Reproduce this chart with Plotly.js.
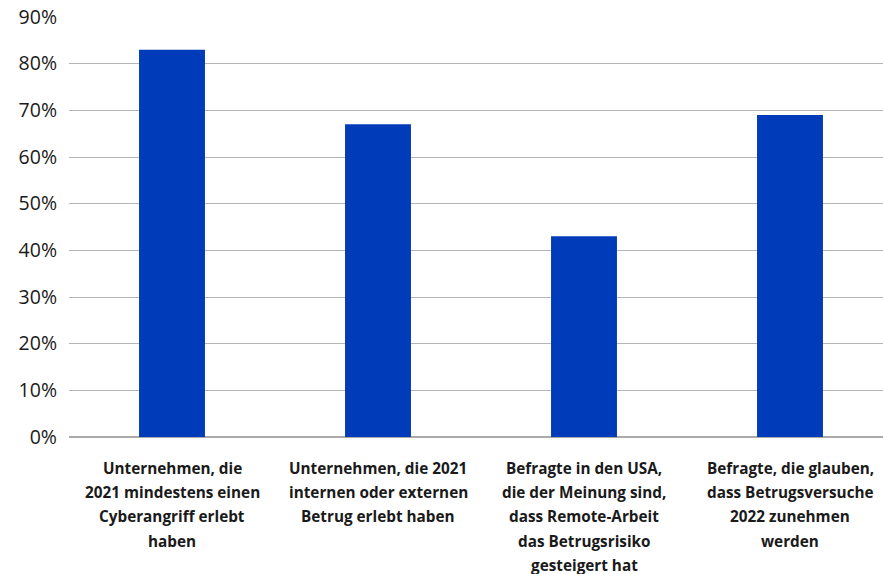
<!DOCTYPE html>
<html><head><meta charset="utf-8">
<script src="https://cdn.plot.ly/plotly-3.0.1.min.js"></script>
<style>html,body{margin:0;padding:0;background:#fff}#chart{width:883px;height:574px}</style>
</head><body><div id="chart"></div>
<script>
const categories = [
  "Unternehmen, die<br>2021 mindestens einen<br>Cyberangriff erlebt<br>haben",
  "Unternehmen, die 2021<br>internen oder externen<br>Betrug erlebt haben",
  "Befragte in den USA,<br>die der Meinung sind,<br>dass Remote-Arbeit<br>das Betrugsrisiko<br>gesteigert hat",
  "Befragte, die glauben,<br>dass Betrugsversuche<br>2022 zunehmen<br>werden"
];
const values = [83, 67, 43, 69];
const yTickVals = [0,10,20,30,40,50,60,70,80,90];
const yTickText = ["0%","10%","20%","30%","40%","50%","60%","70%","80%","90%"];

const xs = categories.map((c,i)=>i);
const annotations = [];
categories.forEach((c,i)=>{
  c.split("<br>").forEach((line,j)=>{
    annotations.push({
      x: i, xref:'x', y: 0, yref:'paper', yanchor:'middle', xanchor:'center',
      yshift: -(31 + j*24.2), text: line, showarrow:false,
      font:{family:'"Open Sans", "Noto Sans", sans-serif', size:15.3, color:'#1a1a1a', weight:700}
    });
  });
});

Plotly.newPlot('chart', [{
  type:'bar', x: xs, y: values, width: 0.32,
  marker:{color:'#003bb9'}, hoverinfo:'skip'
}], {
  width:883, height:574,
  margin:{l:69, r:0, t:17, b:137},
  paper_bgcolor:'#fff', plot_bgcolor:'#fff',
  showlegend:false,
  xaxis:{range:[-0.5, -0.5 + 814/206], showticklabels:false, showgrid:false, zeroline:false, showline:false, fixedrange:true},
  yaxis:{range:[0,90], tickvals:yTickVals, ticktext:yTickText, showgrid:true, gridcolor:'#b5b5b5', gridwidth:1,
    zeroline:true, zerolinecolor:'#aaaaaa', zerolinewidth:1.5, showline:false,
    ticks:'', ticklabelstandoff:11,
    tickfont:{family:'"Open Sans", "Noto Sans", sans-serif', size:19.5, color:'#1a1a1a'}},
  annotations: annotations
}, {displayModeBar:false, staticPlot:true});
</script></body></html>
